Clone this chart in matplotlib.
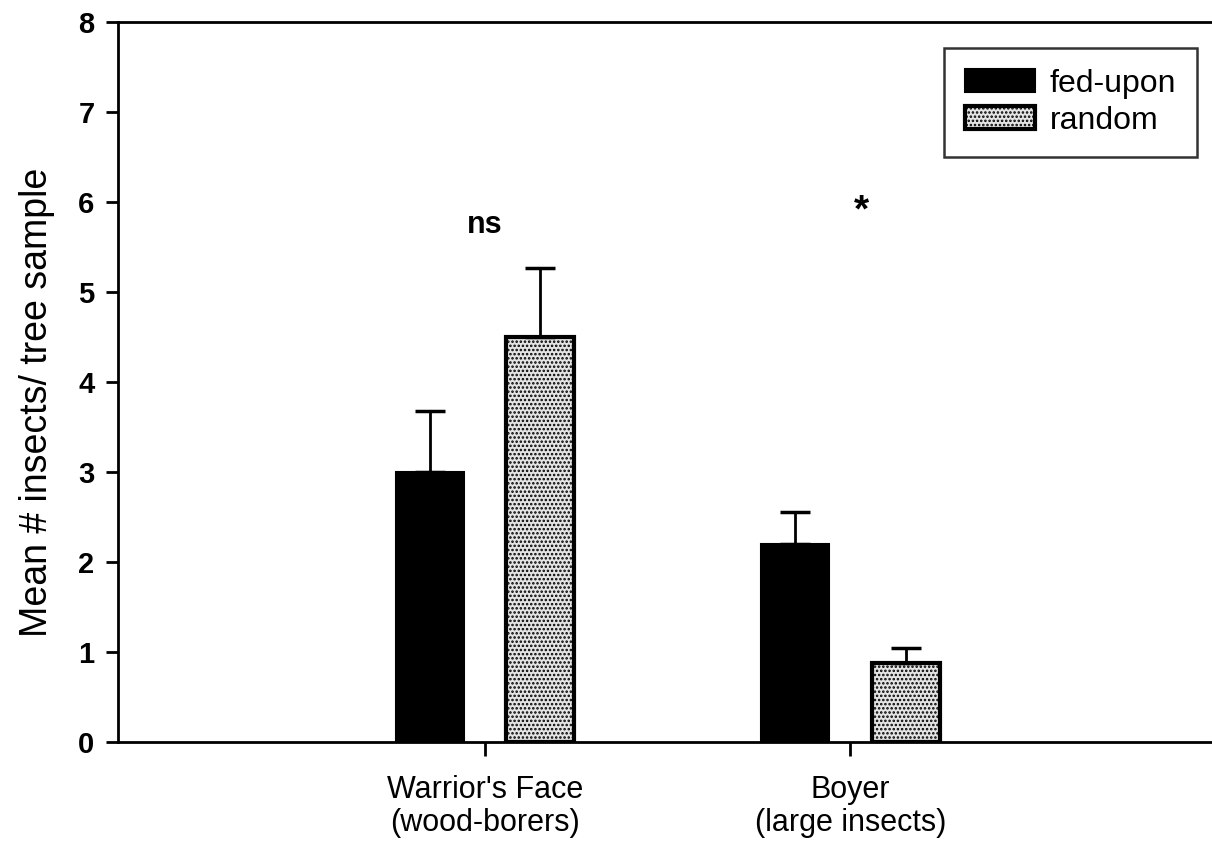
import numpy as np
import matplotlib
matplotlib.use("Agg")
from matplotlib import pyplot as plt

plt.rcParams['font.family'] = ['Liberation Sans', 'DejaVu Sans']
plt.rcParams['hatch.color'] = '#444444'
plt.rcParams['hatch.linewidth'] = 1.2

sites = ["Warrior's Face\n(wood-borers)", "Boyer\n(large insects)"]
fed_mean = [3.0, 2.2]
fed_err = [0.68, 0.36]
rand_mean = [4.5, 0.88]
rand_err = [0.77, 0.17]
signif = ["ns", "*"]
signif_y = [5.75, 5.9]

fig = plt.figure(figsize=(12.12, 8.41), dpi=100)
ax = fig.add_axes([0.0974, 0.1177, 0.9026, 0.8561])

x = np.arange(len(sites))
w = 0.186
off = 0.151

ax.bar(x - off, fed_mean, w, color='black', edgecolor='black', linewidth=1.5,
       label='fed-upon', zorder=2)
ax.bar(x + off, rand_mean, w, color='#e4e4e4', edgecolor='black', linewidth=3,
       hatch='....', label='random', zorder=2)

ax.errorbar(x - off, fed_mean, yerr=[np.zeros(2), fed_err], fmt='none',
            ecolor='black', elinewidth=2, capsize=11, capthick=2.5, zorder=3)
ax.errorbar(x + off, rand_mean, yerr=[np.zeros(2), rand_err], fmt='none',
            ecolor='black', elinewidth=2, capsize=11, capthick=2.5, zorder=3)

for xi, s, yy in zip(x, signif, signif_y):
    ax.text(xi + (0.03 if s == "*" else 0), yy, s, ha='center', va='center',
            fontsize=22 if s == "ns" else 28, fontweight='bold')

ax.set_xlim(-1.005, 1.99)
ax.set_ylim(0, 8)
ax.set_xticks(x)
ax.set_xticklabels(sites, fontsize=22, linespacing=1.1)
ax.set_yticks(range(0, 9))
ax.tick_params(axis='y', labelsize=21, width=2, length=9, pad=8)
ax.tick_params(axis='x', width=2, length=10, pad=14)
for lab in ax.get_yticklabels():
    lab.set_fontweight('bold')
ax.set_ylabel("Mean # insects/ tree sample", fontsize=27)
ax.yaxis.set_label_coords(-0.058, 0.472)

ax.spines['right'].set_visible(False)
for sp in ['left', 'bottom', 'top']:
    ax.spines[sp].set_linewidth(2)

leg = ax.legend(loc='upper right', bbox_to_anchor=(0.9863, 0.964), fontsize=23,
                frameon=True, fancybox=False, edgecolor='black',
                handlelength=2.2, handleheight=0.7, borderpad=0.65,
                labelspacing=0.22, handletextpad=0.45, borderaxespad=0)
leg.get_frame().set_linewidth(1.8)

fig.savefig("out.png", dpi=100)
